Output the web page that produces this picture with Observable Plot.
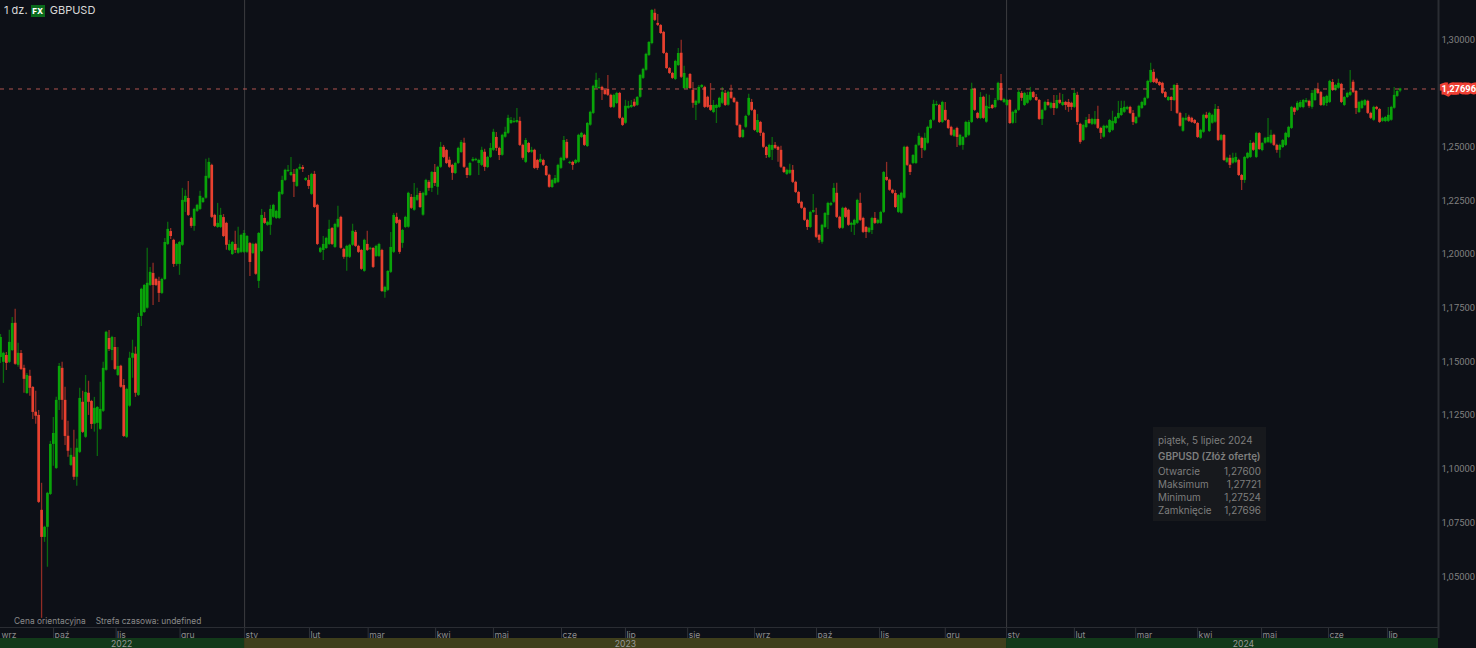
<!DOCTYPE html>
<html lang="pl"><head><meta charset="utf-8">
<script src="https://cdn.jsdelivr.net/npm/d3@7"></script>
<script src="https://cdn.jsdelivr.net/npm/@observablehq/plot@0.6"></script>
<style>
html,body{margin:0;padding:0;background:#0d1017;overflow:hidden}
#wrap{position:relative;width:1476px;height:648px;font-family:Inter,Roboto,sans-serif;overflow:hidden}
#wrap svg{display:block;background:#0d1017}
.o{position:absolute;white-space:nowrap}
#title{left:4px;top:3px;font-size:11px;line-height:15px;color:#d8d8d8}
#title b{display:inline-block;background:#0a6b1c;color:#fff;font-size:8px;font-weight:800;width:14px;height:12px;line-height:12px;text-align:center;margin:0 2px 0 0;vertical-align:0}
#note{left:14px;top:615px;font-size:8.4px;line-height:12px;color:#8a8a8a}
#note span{margin-left:10px}
#tip{left:1153px;top:427px;width:113px;height:94px;background:#17191d;color:#7e7e7e;font-size:9.9px;line-height:13px}
#tip div{position:absolute;left:5px;right:5px;display:flex;justify-content:space-between}
</style></head><body>
<div id="wrap">
<div class="o" id="title">1 dz. <b>FX</b> GBPUSD</div>
<div class="o" id="note">Cena orientacyjna<span>Strefa czasowa: undefined</span></div>
<div class="o" id="tip"></div>
</div>
<script>
// closing price of each daily candle, in 1/10000 of a dollar
const closes=[
11613,11539,11492,11590,11678,11488,11539,11464,11418,11436,11376,11264,11246,10845,10682,10729,10887,11115,11166,11320,
11478,11320,11152,11083,11064,10962,11097,11329,11171,11357,11311,11208,11283,11287,11278,11469,11637,11557,11613,11464,
11478,11381,11152,11371,11516,11539,11353,11706,11837,11855,11865,11916,11855,11855,11818,11883,12055,12116,12083,11953,
12046,12055,12251,12270,12181,12130,12209,12228,12270,12260,12363,12428,12172,12130,12144,12181,12083,12042,12046,12055,
12018,12028,12088,12097,12083,11962,12046,11907,12097,12181,12144,12149,12209,12228,12200,12288,12344,12391,12391,12381,
12335,12395,12405,12395,12353,12316,12372,12218,12046,12028,12046,12074,12116,12046,12139,12163,12028,11986,12037,12042,
12107,12037,12009,11930,12065,12018,12028,11939,12037,12046,11827,11846,11920,12032,12181,12144,12009,12111,12172,12284,
12214,12265,12274,12218,12284,12344,12307,12381,12330,12405,12498,12451,12423,12405,12377,12423,12493,12521,12405,12367,
12423,12442,12442,12437,12484,12405,12451,12493,12568,12493,12460,12554,12568,12633,12623,12619,12623,12507,12447,12530,
12474,12484,12400,12400,12442,12414,12367,12312,12344,12353,12414,12447,12530,12447,12428,12414,12437,12554,12563,12507,
12609,12661,12782,12810,12777,12763,12744,12740,12684,12740,12749,12633,12600,12689,12689,12693,12689,12730,12833,12861,
12931,12986,13135,13089,13066,13028,12935,12865,12842,12819,12898,12935,12824,12842,12819,12772,12703,12712,12777,12786,
12684,12684,12670,12693,12693,12726,12754,12693,12754,12726,12707,12600,12544,12577,12642,12726,12670,12577,12623,12563,
12498,12460,12507,12507,12493,12484,12405,12381,12391,12391,12335,12288,12237,12214,12158,12125,12195,12204,12079,12065,
12135,12190,12237,12237,12307,12172,12121,12214,12172,12135,12144,12158,12251,12158,12102,12102,12121,12167,12144,12158,
12195,12381,12344,12298,12284,12218,12274,12284,12498,12414,12381,12460,12507,12549,12493,12540,12591,12623,12698,12698,
12614,12707,12623,12586,12554,12577,12544,12554,12544,12614,12614,12768,12670,12633,12730,12633,12689,12684,12679,12716,
12796,12716,12721,12716,12609,12661,12670,12754,12726,12749,12740,12754,12730,12716,12628,12670,12707,12693,12703,12679,
12716,12703,12707,12693,12684,12684,12749,12614,12521,12600,12623,12609,12628,12628,12586,12563,12596,12596,12623,12619,
12637,12656,12679,12684,12684,12656,12614,12637,12689,12707,12726,12805,12856,12800,12796,12786,12749,12730,12730,12716,
12786,12656,12596,12633,12633,12619,12614,12609,12544,12577,12647,12633,12656,12647,12675,12530,12554,12437,12447,12414,
12447,12451,12367,12344,12451,12470,12516,12484,12563,12488,12516,12540,12544,12554,12507,12484,12507,12530,12563,12591,
12684,12661,12703,12707,12716,12716,12689,12749,12763,12749,12693,12730,12735,12805,12763,12786,12796,12707,12730,12749,
12754,12754,12679,12707,12712,12716,12656,12633,12684,12675,12614,12633,12637,12647,12684,12740,12758,12770];
// close minus open of each candle (positive = rising)
const bodies=[
93,42,-37,93,126,-191,56,-74,-51,84,-56,-116,-19,-405,-126,47,158,233,51,317,
158,-149,-168,-70,47,-93,135,251,-140,209,-42,-107,74,74,93,200,177,-51,61,-102,
42,-98,-237,223,223,23,-182,363,126,126,116,61,-56,-28,-56,65,172,70,-23,-112,
93,102,209,28,-79,-37,79,28,61,19,102,74,-242,-51,19,56,-88,-102,28,56,
-28,23,79,88,74,-88,42,-140,223,168,-23,14,74,56,33,121,65,47,5,14,
-37,79,9,-9,9,-28,93,-154,-182,19,28,47,70,-74,107,37,-144,-37,51,56,
65,-65,-28,-88,144,-28,5,-88,47,56,-191,23,88,116,172,-28,-149,60,47,158,
-51,60,23,-65,102,70,-28,74,-51,93,93,-47,-60,-33,-37,47,70,47,-112,-33,
56,9,5,14,70,-70,47,42,84,-51,-33,93,23,70,14,5,9,-112,-60,102,
-42,9,-84,-37,14,-23,-42,-56,33,23,79,47,93,-74,5,-14,14,126,19,-47,
107,60,126,37,5,-14,-19,-28,-56,56,47,-116,-33,79,9,9,-19,37,102,42,
74,60,154,-33,-9,-37,-98,-70,-23,-23,84,56,-112,70,47,-65,-60,19,74,9,
-93,-47,-23,33,14,42,51,-56,60,-28,-19,-107,-56,33,51,79,-37,-93,56,-51,
-65,-37,56,23,-14,-14,-79,-23,19,14,-56,-47,-51,-28,-56,-33,70,9,-102,-23,
79,65,56,9,65,-112,-51,93,-42,-70,9,23,107,-79,-65,-23,19,56,-23,14,
51,186,-14,-47,-14,-65,79,93,237,-84,-33,37,84,42,-47,56,74,37,74,5,
-79,93,-47,-37,-37,28,-42,47,37,70,60,154,-98,-23,98,-98,74,5,-14,33,
79,-79,14,23,-107,51,14,84,-23,56,37,37,-23,-14,-88,42,37,-14,23,-23,
37,-14,14,-14,-23,-19,65,-126,-84,70,33,-19,23,23,-42,-23,51,9,56,42,
28,23,33,23,9,-28,-42,28,51,28,33,79,56,-47,-19,-14,-47,-23,14,-14,
70,-130,-60,60,9,-19,-19,-14,-65,37,79,-14,84,37,60,-144,23,-116,19,-33,
23,23,-70,-23,107,23,65,-33,112,-74,33,23,23,37,-47,-23,23,33,56,47,
98,-19,33,23,33,9,-23,65,47,-19,-60,37,33,98,-37,23,23,-84,37,19,
14,-47,-79,47,33,23,-56,-23,60,-9,-60,14,19,28,60,60,23,10];
// upper wick length of each candle
const upperWicks=[
14,5,14,56,28,65,47,14,14,9,28,5,98,23,126,5,5,14,74,14,
14,28,61,70,33,126,42,47,51,79,56,5,51,5,126,28,5,37,5,47,
88,5,28,5,28,61,33,19,5,5,163,23,47,5,19,5,19,33,14,5,
5,5,56,28,79,5,5,5,23,5,79,19,5,5,93,33,14,5,19,5,
61,98,5,14,5,5,5,5,5,28,28,5,19,5,5,5,19,5,23,70,
23,5,14,9,5,23,5,14,5,5,37,5,42,5,5,61,5,5,5,5,
33,9,5,5,5,61,5,5,5,5,5,5,5,70,9,19,5,5,5,5,
14,65,33,9,5,5,9,5,37,5,23,9,5,14,5,5,5,9,23,5,
5,9,5,5,14,14,5,23,14,23,5,5,23,14,14,14,56,19,5,9,
5,14,5,5,23,5,5,5,5,14,5,5,19,14,5,5,5,5,5,5,
5,5,5,33,42,5,5,65,5,5,5,5,5,28,23,23,14,5,5,5,
5,5,5,19,42,5,5,5,5,5,5,23,61,33,5,5,37,5,9,5,
5,5,102,23,5,5,23,14,5,33,5,5,5,5,5,19,14,5,28,5,
5,5,5,37,14,5,19,5,5,28,23,5,5,5,5,5,5,74,33,5,
5,5,5,5,23,47,5,5,5,5,5,5,5,47,5,5,5,5,28,5,
5,5,70,5,5,14,5,5,5,5,5,5,5,14,5,23,5,5,19,14,
5,5,37,5,5,5,5,5,5,5,9,28,5,5,23,5,56,56,5,9,
5,42,5,5,5,5,5,9,9,5,14,23,5,14,5,5,5,14,5,37,
23,33,37,5,14,5,14,14,5,5,14,23,5,37,61,5,5,5,5,47,
5,56,33,28,5,5,14,5,5,5,5,5,33,14,5,5,5,5,5,5,
5,9,5,5,23,9,5,5,5,5,5,14,5,5,23,14,5,5,5,14,
23,19,5,5,5,5,14,5,5,5,5,5,88,23,5,5,5,5,5,5,
5,5,9,9,5,9,5,14,5,28,5,5,5,5,14,5,19,5,5,5,
102,9,5,5,5,5,5,5,5,5,5,5,5,37,5,37,5,3];
// lower wick length of each candle
const lowerWicks=[
28,98,33,5,5,5,9,5,65,5,37,33,37,5,377,23,186,5,102,5,
47,93,42,28,5,14,42,5,5,5,61,23,37,154,5,5,5,9,47,5,
5,5,5,5,5,93,19,5,47,5,5,5,93,5,42,5,5,5,14,14,
9,51,5,47,5,9,23,5,5,5,5,5,5,5,5,5,5,23,5,5,
14,5,5,5,5,65,5,5,33,5,5,5,47,5,5,5,5,5,5,5,
70,5,5,14,5,14,5,5,5,5,47,5,5,5,5,5,5,9,65,5,
5,5,5,5,5,5,5,5,5,5,5,28,5,5,5,5,9,23,5,5,
5,5,5,5,5,5,14,19,14,37,5,5,5,5,33,5,5,5,5,14,
5,5,5,56,5,19,5,5,5,14,23,5,5,5,5,5,5,5,9,5,
5,5,5,9,5,5,5,5,5,5,5,5,5,5,5,23,5,5,5,5,
5,5,5,5,5,47,5,5,5,5,5,5,5,5,5,5,5,5,5,5,
5,5,5,5,5,5,5,5,5,5,5,5,5,5,5,5,23,70,5,5,
5,5,5,5,70,5,5,5,5,5,5,5,5,5,5,5,5,5,5,14,
5,14,5,47,5,56,5,5,5,5,5,5,5,5,5,14,5,5,5,14,
9,5,65,5,5,5,5,5,5,5,33,47,5,5,5,28,5,19,5,5,
5,5,5,5,5,5,5,5,5,5,14,5,5,5,47,5,5,5,5,5,
5,5,5,5,5,5,47,5,23,5,5,5,5,5,5,5,5,5,5,5,
5,5,5,5,5,5,47,5,14,5,5,5,5,5,5,28,5,5,5,33,
5,5,5,23,23,14,5,14,9,5,5,5,5,5,5,28,5,5,5,5,
5,5,5,5,5,5,14,5,5,5,5,5,5,5,5,5,5,5,5,51,
5,5,5,5,5,5,5,5,5,5,5,5,5,5,5,5,5,5,5,14,
5,5,5,47,14,5,5,5,5,5,5,5,5,5,5,14,37,5,5,5,
5,14,5,5,5,5,9,9,5,5,5,5,14,5,5,5,5,5,5,5,
5,5,28,5,5,5,5,5,5,5,5,5,5,5,5,5,5,8];

const priceTicks=[1.05,1.075,1.10,1.125,1.15,1.175,1.20,1.225,1.25,1.30];
const lastPrice=1.27696;
const monthLabels=["wrz","paź","lis","gru","sty","lut","mar","kwi","maj","cze","lip","sie","wrz","paź","lis","gru","sty","lut","mar","kwi","maj","cze","lip"];
const monthStarts=[0,18.1,39.4,61.2,83.2,105.3,125.3,148.3,168,191.2,213,234.2,257,278.1,299.6,322,342.9,366,386.9,408,429.8,452.6,472.7];
const years=["2022","2023","2024"];
const yearStarts=[0,83.2,342.9];
const yearEnds=[83.2,342.9,490.1];
const yearLabelAt=[41.3,213,423.6];
const yearFills=["#123a1a","#3f3f1c","#123a1a"];
const tipRows=[["Otwarcie","1,27600"],["Maksimum","1,27721"],["Minimum","1,27524"],["Zamknięcie","1,27696"]];

const candles=closes.map((c,i)=>{
  const o=c-bodies[i];
  return {i,up:bodies[i]>=0,open:o/1e4,close:c/1e4,
    high:(Math.max(o,c)+upperWicks[i])/1e4,low:(Math.min(o,c)-lowerWicks[i])/1e4};
});
const comma=(v,d)=>v.toFixed(d).replace(".",",");
const RED="#e8402f",GREEN="#09a309";
const yearRows=years.map((y,k)=>({y,a:yearStarts[k],b:yearEnds[k],m:yearLabelAt[k],f:yearFills[k]}));
const monthRows=monthLabels.map((m,k)=>({m,x:monthStarts[k]}));

const chart=Plot.plot({
  width:1476,height:648,marginTop:0,marginLeft:0,marginBottom:0,marginRight:38,
  style:{background:"#0d1017",fontFamily:"Inter,Roboto,sans-serif"},
  x:{domain:[0,490.1],range:[0,1438],axis:null},
  y:{domain:[1.01648,1.31816],range:[648,0],axis:null},
  marks:[
    Plot.ruleX(yearStarts.slice(1),{stroke:"#3c3d40",strokeWidth:1,insetBottom:21}),
    Plot.ruleX(candles.filter(d=>d.up),{x:"i",y1:"low",y2:"high",stroke:GREEN,strokeOpacity:.6,strokeWidth:1.3}),
    Plot.ruleX(candles.filter(d=>!d.up),{x:"i",y1:"low",y2:"high",stroke:RED,strokeOpacity:.6,strokeWidth:1.3}),
    Plot.ruleX(candles.filter(d=>d.up),{x:"i",y1:"open",y2:"close",stroke:GREEN,strokeWidth:2.7}),
    Plot.ruleX(candles.filter(d=>!d.up),{x:"i",y1:"open",y2:"close",stroke:RED,strokeWidth:2.7}),
    Plot.ruleY([lastPrice],{stroke:"#d9655c",strokeOpacity:.8,strokeWidth:1,strokeDasharray:"4,5"}),
    // month strip
    Plot.rect([0],{x1:0,x2:490.1,insetTop:627,insetBottom:20,fill:"#2a2d33"}),
    Plot.ruleX(monthRows.slice(1),{x:"x",stroke:"#2f3238",insetTop:628,insetBottom:10}),
    Plot.text(monthRows,{x:"x",text:"m",frameAnchor:"bottom",textAnchor:"start",dx:1,dy:-11,fontSize:8.6,fill:"#8c8c8c"}),
    // year strip
    Plot.rect(yearRows,{x1:"a",x2:"b",fill:"f",insetTop:638}),
    Plot.text(yearRows,{x:"m",text:"y",frameAnchor:"bottom",dy:-1.5,fontSize:8.6,fill:"#9a9a9a"}),
    // price axis
    Plot.ruleX([490.1],{stroke:"#2a2d33",strokeWidth:2,insetBottom:10}),
    Plot.axisY(priceTicks,{anchor:"right",tickSize:0,tickPadding:3,label:null,fontSize:9.4,fontFamily:"Roboto,sans-serif",color:"#808080",tickFormat:v=>comma(v,5)}),
    // last price tag
    Plot.text([lastPrice],{y:d=>d,text:d=>comma(d,5),frameAnchor:"right",textAnchor:"start",dx:3,fontSize:9.4,fontFamily:"Roboto,sans-serif",fontWeight:700,fill:"#fff",stroke:"#ef3f33",strokeWidth:5,paintOrder:"stroke",strokeLinejoin:"miter"})
  ]
});
const wrap=document.getElementById("wrap");
wrap.prepend(chart);

const tip=document.getElementById("tip");
const add=(top,l,r,bold)=>{const d=document.createElement("div");d.style.top=top+"px";
  if(bold)d.style.fontWeight=600;
  d.innerHTML="<span>"+l+"</span>"+(r?"<span>"+r+"</span>":"");tip.appendChild(d);};
add(6.5,"piątek, 5 lipiec 2024");
add(22.5,"GBPUSD (Złóż ofertę)","",true);
tipRows.forEach((r,k)=>add(37.5+k*13,r[0],r[1]));
</script>
</body></html>
